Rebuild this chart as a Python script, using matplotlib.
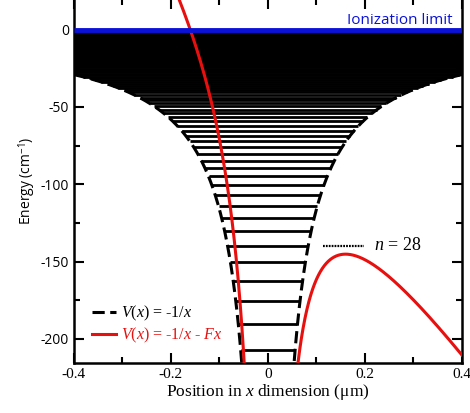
import numpy as np
import matplotlib.pyplot as plt
from matplotlib.ticker import MultipleLocator

plt.rcParams['mathtext.fontset'] = 'custom'
plt.rcParams['mathtext.rm'] = 'Liberation Serif'
plt.rcParams['mathtext.it'] = 'Liberation Serif:italic'
plt.rcParams['mathtext.sf'] = 'Open Sans'

# Coulomb constant in cm^-1 * um (hartree * bohr), and applied field in cm^-1/um
coulomb_a = 11.614
field_F = 453.7
rydberg = 109737.3

# principal quantum numbers drawn as bound levels
n_levels = np.arange(23, 1500)
n_label = 28

x_ticks = [-0.4, -0.2, 0, 0.2, 0.4]
y_ticks = [0, -50, -100, -150, -200]

red = '#e8100f'
blue = '#0a12d8'

fig = plt.figure(figsize=(4.70, 4.13), dpi=100)
ax = fig.add_axes([0.157, 0.121, 0.826, 0.882])

# energy levels between classical turning points of -1/|x|
energies = -rydberg / n_levels**2
turning = coulomb_a / -energies
ax.hlines(energies, -turning, turning, color='black', lw=2.0, zorder=2)

# field-free Coulomb potential
xl = np.linspace(-0.4, -0.001, 800)
xr = np.linspace(0.001, 0.4, 800)
ax.plot(xl, -coulomb_a / np.abs(xl), color='black', lw=2.2, ls=(0, (4, 1.8)), zorder=3,
        label=r'$V$($x$) = -1/$x$')
ax.plot(xr, -coulomb_a / np.abs(xr), color='black', lw=2.2, ls=(0, (4, 1.8)), zorder=3)

# potential with applied field
ax.plot(xl, -coulomb_a / np.abs(xl) - field_F * xl, color=red, lw=2.2, zorder=4,
        label=r'$V$($x$) = -1/$x$ - $Fx$')
ax.plot(xr, -coulomb_a / np.abs(xr) - field_F * xr, color=red, lw=2.2, zorder=4)

# ionization limit
ax.hlines(0, -0.4, 0.4, color=blue, lw=3.5, zorder=5)
ax.text(0.381, 6, 'Ionization limit', color=blue, ha='right', va='center',
        fontsize=11, family='Open Sans')

# n = 28 marker
e28 = -rydberg / n_label**2
ax.plot([0.113, 0.199], [e28, e28], color='black', lw=1.6, ls=(0, (0.8, 0.5)), zorder=3)
ax.text(0.219, e28 + 0.5, r'$n$ = 28', fontsize=13, family='Liberation Serif',
        va='center', ha='left')

ax.set_xlim(-0.4, 0.4)
ax.set_ylim(-215.6, 20)
ax.set_xticks(x_ticks)
ax.set_xticklabels(['-0.4', '-0.2', '0', '0.2', '0.4'])
ax.set_yticks(y_ticks)
ax.set_yticklabels([str(v) for v in y_ticks])
ax.xaxis.set_minor_locator(MultipleLocator(0.1))
ax.yaxis.set_minor_locator(MultipleLocator(25))
ax.tick_params(which='both', direction='in', top=True, right=True, width=1.5,
               labelsize=10)
ax.tick_params(which='major', length=7)
ax.tick_params(which='minor', length=4)
for lab in ax.get_xticklabels():
    lab.set_family('Liberation Serif')
    lab.set_fontsize(11)
for lab in ax.get_yticklabels():
    lab.set_family('Open Sans')
for sp in ax.spines.values():
    sp.set_linewidth(1.8)

ax.set_xlabel(r'Position in $x$ dimension (μm)', family='Liberation Serif',
              fontsize=12.5, labelpad=1)
ax.set_ylabel(r'Energy (cm$^{\mathsf{-1}}$)', family='Open Sans', fontsize=10, labelpad=2)

leg = ax.legend(loc='center left', bbox_to_anchor=(0.046, 0.106), frameon=False,
                prop={'family': 'Liberation Serif', 'size': 11.5},
                borderpad=0, borderaxespad=0,
                handlelength=1.5, handletextpad=0.35, labelspacing=0.15)
leg.get_texts()[1].set_color(red)

fig.savefig('out.png', dpi=100)
